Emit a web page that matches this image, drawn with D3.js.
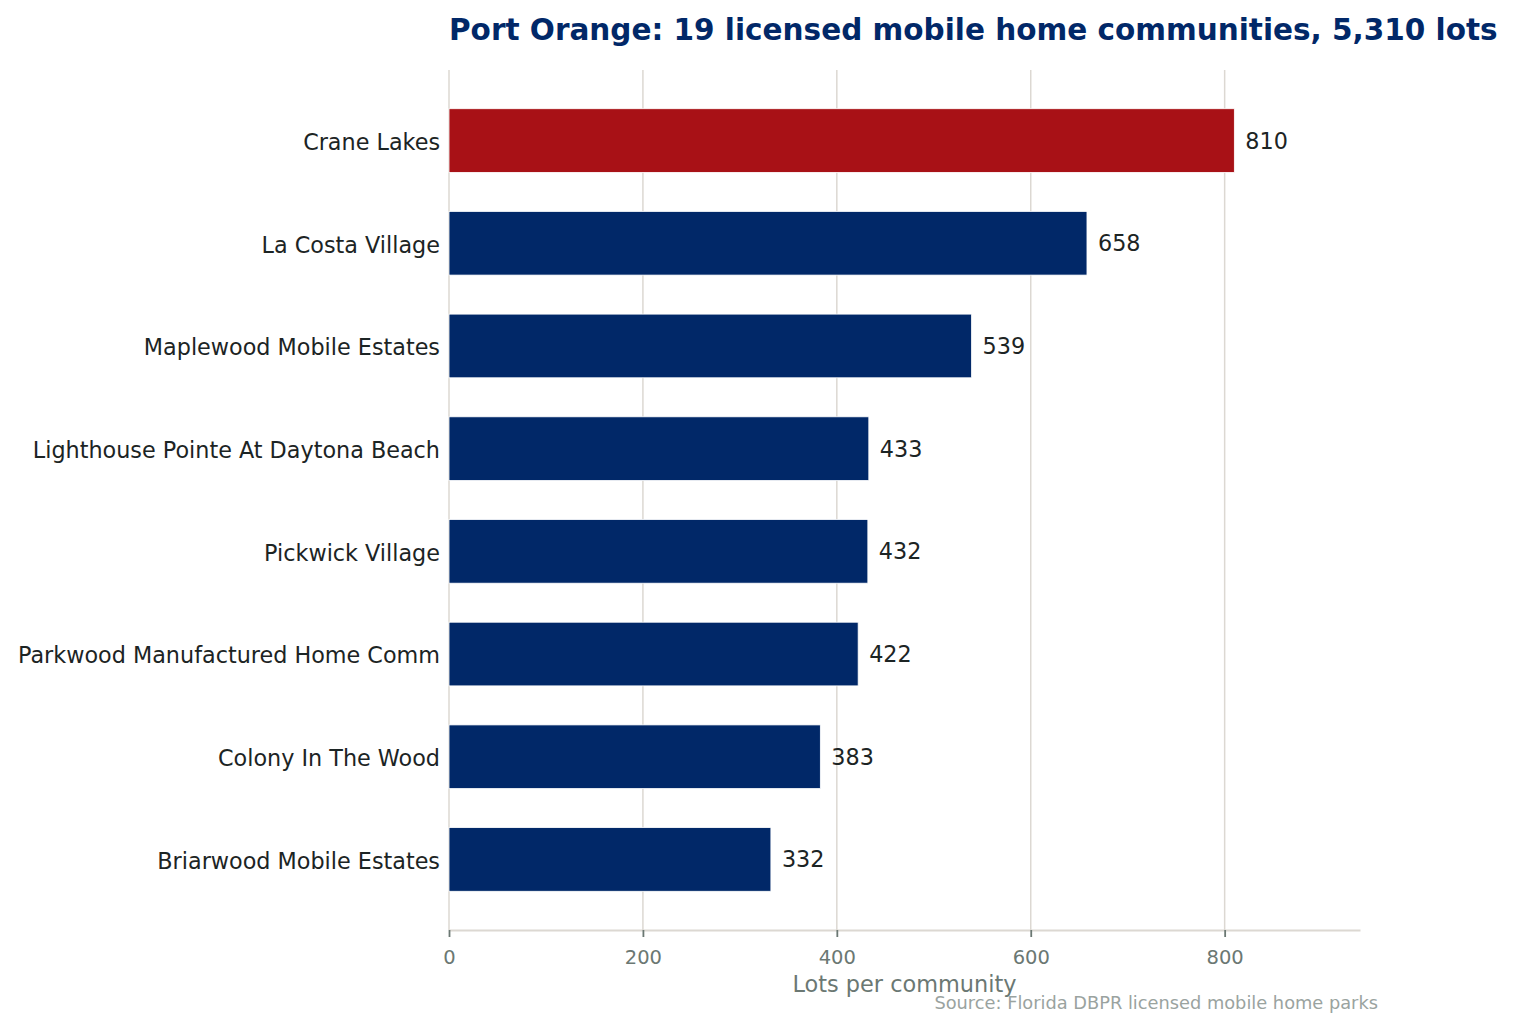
<!DOCTYPE html>
<html>
<head>
<meta charset="utf-8">
<script src="https://cdn.jsdelivr.net/npm/d3@7"></script>
<style>
  body { margin: 0; background: #fff; }
  text { font-family: "DejaVu Sans", sans-serif; }
</style>
</head>
<body>
<svg id="chart"></svg>
<script>
// 데이터
const communities = [
  "Crane Lakes",
  "La Costa Village",
  "Maplewood Mobile Estates",
  "Lighthouse Pointe At Daytona Beach",
  "Pickwick Village",
  "Parkwood Manufactured Home Comm",
  "Colony In The Wood",
  "Briarwood Mobile Estates"
];
const lots = [810, 658, 539, 433, 432, 422, 383, 332];
const xTicks = [0, 200, 400, 600, 800];
const highlight = "Crane Lakes";

const width = 1513;
const height = 1030;
const margin = { top: 70, right: 153, bottom: 100, left: 449 };

const svg = d3.select("#chart")
  .attr("width", width)
  .attr("height", height);

const x = d3.scaleLinear()
  .domain([0, d3.max(lots) * 1.16])
  .range([margin.left, width - margin.right]);

const y = d3.scaleBand()
  .domain(communities)
  .range([margin.top, height - margin.bottom])
  .paddingInner(0.38)
  .paddingOuter(0.377);

// 세로 그리드
svg.append("g")
  .selectAll("line")
  .data(xTicks)
  .join("line")
  .attr("x1", d => x(d))
  .attr("x2", d => x(d))
  .attr("y1", margin.top)
  .attr("y2", height - margin.bottom)
  .attr("stroke", "#dcd8d2")
  .attr("stroke-width", 1.5);

// 막대
svg.append("g")
  .selectAll("rect")
  .data(communities)
  .join("rect")
  .attr("x", x(0))
  .attr("y", d => y(d))
  .attr("width", (d, i) => x(lots[i]) - x(0))
  .attr("height", y.bandwidth())
  .attr("fill", d => d === highlight ? "#a81116" : "#012868")
  .attr("stroke", "#fff")
  .attr("stroke-width", 0.8);

// 값 라벨
svg.append("g")
  .selectAll("text")
  .data(communities)
  .join("text")
  .attr("x", (d, i) => x(lots[i]) + 11)
  .attr("y", d => y(d) + y.bandwidth() / 2)
  .attr("dy", "0.36em")
  .attr("font-size", 22.3)
  .attr("fill", "#1c2424")
  .text((d, i) => lots[i]);

// x축
const xAxis = svg.append("g")
  .attr("transform", `translate(0,${height - margin.bottom})`)
  .call(d3.axisBottom(x).tickValues(xTicks).tickSize(7).tickSizeOuter(0).tickPadding(13));
xAxis.select(".domain").attr("stroke", "#dcd8d2").attr("stroke-width", 1.8);
xAxis.selectAll(".tick line").attr("stroke", "#6b7873").attr("stroke-width", 1.8);
xAxis.selectAll(".tick text")
  .attr("font-size", 19.5)
  .attr("font-family", "DejaVu Sans")
  .attr("fill", "#6b7873");

// y축 라벨
svg.append("g")
  .selectAll("text")
  .data(communities)
  .join("text")
  .attr("x", margin.left - 9)
  .attr("y", d => y(d) + y.bandwidth() / 2)
  .attr("dy", "0.42em")
  .attr("text-anchor", "end")
  .attr("font-size", 22.3)
  .attr("fill", "#1c2424")
  .text(d => d);

// 제목
svg.append("text")
  .attr("x", margin.left)
  .attr("y", 40)
  .attr("font-size", 29.5)
  .attr("font-weight", "bold")
  .attr("fill", "#012868")
  .text("Port Orange: 19 licensed mobile home communities, 5,310 lots");

// 축 제목
svg.append("text")
  .attr("x", (x.range()[0] + x.range()[1]) / 2)
  .attr("y", 992)
  .attr("text-anchor", "middle")
  .attr("font-size", 22.4)
  .attr("fill", "#6b7873")
  .text("Lots per community");

// 출처
svg.append("text")
  .attr("x", 1378)
  .attr("y", 1009)
  .attr("text-anchor", "end")
  .attr("font-size", 17.8)
  .attr("fill", "#9aa39f")
  .text("Source: Florida DBPR licensed mobile home parks");
</script>
</body>
</html>
